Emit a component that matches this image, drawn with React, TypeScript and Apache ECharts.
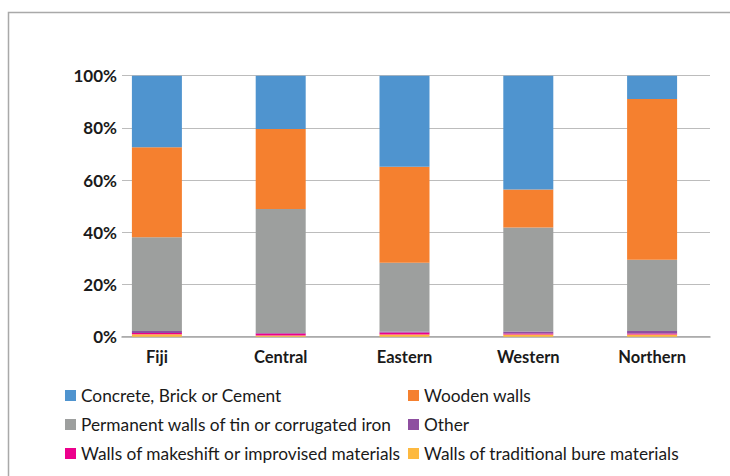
import React, { useEffect, useRef } from "react";
import * as echarts from "echarts";

const categories = ["Fiji", "Central", "Eastern", "Western", "Northern"];
const yTicks = [0, 20, 40, 60, 80, 100];

const bure = [0.9, 0.5, 0.8, 0.8, 0.8];
const makeshift = [0.5, 0.7, 0.8, 0.4, 0.4];
const other = [0.8, 0.2, 0.4, 0.8, 1.0];
const permanent = [35.9, 47.5, 26.3, 39.8, 27.3];
const wooden = [34.5, 30.7, 36.8, 14.6, 61.6];
const concrete = [27.4, 20.4, 34.9, 43.6, 8.9];

const seriesDefs = [
  { name: "Walls of traditional bure materials", data: bure, color: "#fdb940" },
  { name: "Walls of makeshift or improvised materials", data: makeshift, color: "#ec008c" },
  { name: "Other", data: other, color: "#8e4fa0" },
  { name: "Permanent walls of tin or corrugated iron", data: permanent, color: "#9d9f9e" },
  { name: "Wooden walls", data: wooden, color: "#f5802f" },
  { name: "Concrete, Brick or Cement", data: concrete, color: "#4f94cf" },
];

const legendCol1 = [
  "Concrete, Brick or Cement",
  "Permanent walls of tin or corrugated iron",
  "Walls of makeshift or improvised materials",
];
const legendCol2 = ["Wooden walls", "Other", "Walls of traditional bure materials"];

const FONT = "Lato, 'Open Sans', sans-serif";

export default function App() {
  const ref = useRef<HTMLDivElement>(null);
  useEffect(() => {
    if (!ref.current) return;
    const chart = echarts.init(ref.current, null, { renderer: "svg" });
    const legendBase = {
      orient: "vertical",
      itemWidth: 11,
      itemHeight: 11,
      itemGap: 12,
      icon: "rect",
      textStyle: { fontFamily: FONT, fontSize: 17.3, lineHeight: 17, color: "#1a1a1a" },
      selectedMode: false,
      padding: 0,
    };
    chart.setOption({
      animation: false,
      backgroundColor: "#ffffff",
      graphic: [
        {
          type: "rect",
          shape: { x: 8.5, y: 12.5, width: 760, height: 520 },
          style: { fill: "none", stroke: "#a9a9a9", lineWidth: 1.5 },
          silent: true,
          z: -1,
        },
      ],
      legend: [
        { ...legendBase, left: 65, top: 387, data: legendCol1 },
        { ...legendBase, left: 408, top: 387, data: legendCol2 },
      ],
      grid: [
        { left: 122, right: 20, top: 75.7, bottom: 139.3 },
        { left: 95, right: 16, top: 75.7, bottom: 139.3 },
      ],
      xAxis: [
        {
          type: "category",
          gridIndex: 0,
          data: categories,
          axisLine: { show: true, lineStyle: { color: "#a6a6a6", width: 1.5 } },
          axisTick: { show: false },
          axisLabel: { show: false },
        },
        {
          type: "category",
          gridIndex: 1,
          data: categories,
          axisLine: { show: false },
          axisTick: { show: false },
          axisLabel: {
            show: true,
            fontFamily: FONT,
            fontSize: 16.5,
            fontWeight: "bold",
            color: "#1a1a1a",
            margin: 12,
          },
        },
      ],
      yAxis: [
        {
          type: "value",
          gridIndex: 0,
          min: 0,
          max: 100,
          interval: 20,
          axisLine: { show: false },
          axisTick: { show: false },
          splitLine: { show: true, lineStyle: { color: "#bcbcbc", width: 1.2 } },
          axisLabel: {
            fontFamily: FONT,
            fontSize: 17,
            fontWeight: "bold",
            color: "#1a1a1a",
            margin: 5,
            formatter: (v: number) => (yTicks.includes(v) ? v + "%" : ""),
          },
        },
        {
          type: "value",
          gridIndex: 1,
          min: 0,
          max: 100,
          interval: 20,
          show: false,
          splitLine: { show: false },
        },
      ],
      series: seriesDefs.map((s) => ({
        name: s.name,
        type: "bar",
        stack: "total",
        xAxisIndex: 1,
        yAxisIndex: 1,
        barWidth: 50,
        data: s.data,
        itemStyle: { color: s.color },
        emphasis: { disabled: true },
      })),
    });
    return () => chart.dispose();
  }, []);
  return (
    <div
      ref={ref}
      style={{ position: "absolute", left: 0, top: 0, width: 730, height: 476 }}
    />
  );
}
